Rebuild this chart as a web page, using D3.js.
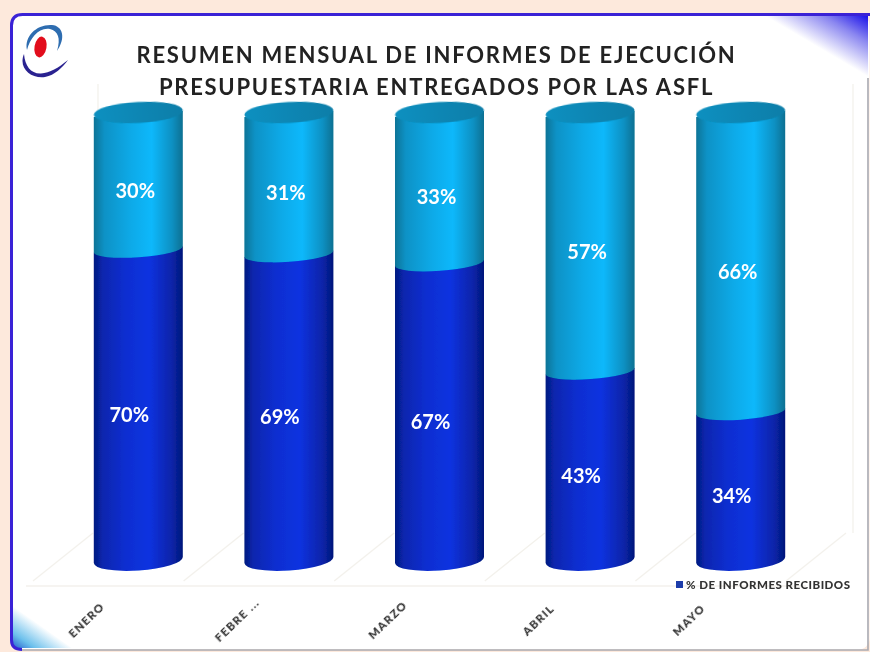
<!DOCTYPE html>
<html>
<head>
<meta charset="utf-8">
<script src="https://cdn.jsdelivr.net/npm/d3@7"></script>
<style>
  html, body { margin: 0; padding: 0; background: #fde9dc; }
  svg { display: block; }
  text { font-family: Lato, "Open Sans", sans-serif; }
</style>
</head>
<body>
<div id="chart"></div>
<script>
// values
const months = ["ENERO", "FEBRE ...", "MARZO", "ABRIL", "MAYO"];
const received = [70, 69, 67, 43, 34];
const missing = [30, 31, 33, 57, 66];
const titleLines = [
  "RESUMEN MENSUAL DE INFORMES DE EJECUCIÓN",
  "PRESUPUESTARIA ENTREGADOS POR LAS ASFL"
];
const legendLabel = "% DE INFORMES RECIBIDOS";

const width = 870, height = 652;
const tilt = -4;          // the cylinders lean a little in the 3D view
const capTilt = -3;
const baseLift = 5;

const svg = d3.select("#chart").append("svg")
  .attr("width", width)
  .attr("height", height);

const defs = svg.append("defs");

function sideGradient(id, stops) {
  defs.append("linearGradient").attr("id", id)
    .selectAll("stop").data(stops).enter().append("stop")
    .attr("offset", d => d[0])
    .attr("stop-color", d => d[1]);
}
sideGradient("darkBar", [[0, "#041a80"], [0.1, "#0826ae"], [0.35, "#0a2ed0"], [0.62, "#0832e0"], [0.88, "#0824a8"], [1, "#04177a"]]);
sideGradient("lightBar", [[0, "#0a7497"], [0.12, "#0a92c6"], [0.42, "#09aae8"], [0.65, "#07b8fb"], [0.88, "#0a90c2"], [1, "#0a7092"]]);
sideGradient("capFill", [[0, "#0a90c0"], [0.5, "#0786b4"], [1, "#0a7ea8"]]);

function cornerGradient(id, from, to, stops) {
  defs.append("linearGradient").attr("id", id)
    .attr("gradientUnits", "userSpaceOnUse")
    .attr("x1", from[0]).attr("y1", from[1])
    .attr("x2", to[0]).attr("y2", to[1])
    .selectAll("stop").data(stops).enter().append("stop")
    .attr("offset", d => d[0])
    .attr("stop-color", d => d[1]);
}
cornerGradient("cornerTop", [868, 14], [840.6, 60.5], [[0, "#1208e8"], [0.45, "#8a86f0"], [1, "#ffffff"]]);
cornerGradient("cornerBottom", [12, 650], [33, 620], [[0, "#1a50c8"], [0.4, "#6cc0ec"], [1, "#ffffff"]]);

const soft = defs.append("filter").attr("id", "soft");
soft.append("feGaussianBlur").attr("stdDeviation", 0.6);

// slide panel
svg.append("rect")
  .attr("x", 11.5).attr("y", 14.5)
  .attr("width", 858).attr("height", 635)
  .attr("rx", 11)
  .attr("fill", "#fff");
svg.append("path")
  .attr("d", "M762,16 L868,16 L868,78 Z")
  .attr("fill", "url(#cornerTop)");
svg.append("path")
  .attr("d", "M13,606 L13,648 L72,648 Z")
  .attr("fill", "url(#cornerBottom)");
svg.append("path")
  .attr("d", "M870,14.5 L22.5,14.5 Q11.5,14.5 11.5,25.5 L11.5,640 Q11.5,649.5 22,649.5")
  .attr("fill", "none")
  .attr("stroke", "#3a22d6")
  .attr("stroke-width", 3);
svg.append("path")
  .attr("d", "M22,650 L868,650 L868,78")
  .attr("fill", "none")
  .attr("stroke", "#a9a9b0")
  .attr("stroke-width", 1.6);

// logo
const logo = svg.append("g").attr("filter", "url(#soft)");
logo.append("ellipse")
  .attr("transform", "translate(40.5,47) rotate(10)")
  .attr("rx", 6).attr("ry", 10.5)
  .attr("fill", "#e2101c");
logo.append("path")
  .attr("d", "M27,50 C24,36 37,24 52,25 C63,26 66,38 57,51 C61,38 58,31 50,29 C39,27 30,38 27,50 Z")
  .attr("fill", "#2f6db0");
logo.append("path")
  .attr("d", "M24,54 C18,68 31,79 45,77 C55,75 62,68 68,60 C58,68 50,73 41,73.5 C31,74 25,66 24,54 Z")
  .attr("fill", "#2a2490");

// scales
const x = d3.scaleBand()
  .domain(months)
  .range([63, 816])
  .paddingInner(0.409)
  .paddingOuter(0.2045);

const y = d3.scaleLinear()
  .domain([0, 100])
  .range([565, 114]);

// floor and walls of the 3D plot
const grid = svg.append("g")
  .attr("fill", "none")
  .attr("stroke", "#f3f1ec")
  .attr("stroke-width", 1.3);
grid.append("line")
  .attr("x1", 26).attr("x2", 806).attr("y1", 586).attr("y2", 586);
grid.append("line")
  .attr("x1", 98).attr("x2", 98).attr("y1", 84).attr("y2", 533);
grid.append("line")
  .attr("x1", 853).attr("x2", 853).attr("y1", 84).attr("y2", 533);
d3.range(months.length + 1).forEach(i => {
  const x0 = 33 + x.step() * i;
  grid.append("line")
    .attr("x1", x0).attr("y1", 581)
    .attr("x2", x0 + 60).attr("y2", 533);
});

// stacked cylinders
const rows = months.map((m, i) => ({ month: m, received: received[i], missing: missing[i] }));
const stacked = d3.stack().keys(["received", "missing"])(rows);

const rx = x.bandwidth() / 2;
const lean = Math.tan(-tilt * Math.PI / 180) * rx;

function edgeY(v) {
  return v === 0 ? y(0) - baseLift : y(v);
}

function segment(d, ry) {
  const xL = x(d.data.month), xR = xL + x.bandwidth();
  const top = y(d[1]), bottom = edgeY(d[0]);
  return `M${xL},${top + lean} L${xL},${bottom + lean}` +
    ` A${rx / Math.cos(tilt * Math.PI / 180)},${ry} ${tilt} 0 0 ${xR},${bottom - lean}` +
    ` L${xR},${top - lean} Z`;
}

const bars = svg.append("g");

bars.selectAll(".received")
  .data(stacked[0])
  .enter().append("path")
  .attr("class", "received")
  .attr("d", d => segment(d, 10.5))
  .attr("fill", "url(#darkBar)")
  .attr("filter", "url(#soft)");

bars.selectAll(".missing")
  .data(stacked[1])
  .enter().append("path")
  .attr("class", "missing")
  .attr("d", d => segment(d, 8))
  .attr("fill", "url(#lightBar)")
  .attr("filter", "url(#soft)");

bars.selectAll(".cap")
  .data(stacked[1])
  .enter().append("ellipse")
  .attr("class", "cap")
  .attr("transform", d => `translate(${x(d.data.month) + rx},${y(d[1]) - 1.5}) rotate(${capTilt})`)
  .attr("rx", rx / Math.cos(capTilt * Math.PI / 180))
  .attr("ry", 10.5)
  .attr("fill", "url(#capFill)")
  .attr("filter", "url(#soft)");

// value labels
const labels = svg.append("g")
  .attr("fill", "#fff")
  .attr("font-weight", 700)
  .attr("font-size", 20)
  .attr("text-anchor", "middle")
  .attr("filter", "url(#soft)");

labels.selectAll(".lowLabel")
  .data(stacked[0])
  .enter().append("text")
  .attr("class", "lowLabel")
  .attr("x", d => x(d.data.month) + rx - 9)
  .attr("y", d => y((d[0] + d[1]) / 2) + 15)
  .text(d => (d[1] - d[0]) + "%");

labels.selectAll(".highLabel")
  .data(stacked[1])
  .enter().append("text")
  .attr("class", "highLabel")
  .attr("x", d => x(d.data.month) + rx - 3)
  .attr("y", d => y((d[0] + d[1]) / 2) + 16)
  .text(d => (d[1] - d[0]) + "%");

// month axis
const xAxis = svg.append("g")
  .attr("transform", "translate(0,586)")
  .call(d3.axisBottom(x).tickSize(0));
xAxis.select(".domain").remove();
xAxis.selectAll("text")
  .attr("fill", "#333")
  .attr("font-family", "Lato, sans-serif")
  .attr("font-weight", 900)
  .attr("font-size", 11.5)
  .attr("letter-spacing", 1.2)
  .attr("text-anchor", "middle")
  .attr("filter", "url(#soft)")
  .attr("y", 0).attr("dy", 0)
  .attr("transform", "translate(-49,37) rotate(-44)");

// title
svg.append("g")
  .attr("fill", "#222")
  .attr("font-weight", 700)
  .attr("font-size", 22)
  .attr("text-anchor", "middle")
  .attr("filter", "url(#soft)")
  .selectAll("text")
  .data(titleLines)
  .enter().append("text")
  .attr("x", 436.5)
  .attr("y", (d, i) => 63 + i * 32)
  .attr("letter-spacing", 1.75)
  .text(d => d);

// legend
svg.append("rect")
  .attr("x", 676).attr("y", 581)
  .attr("width", 7).attr("height", 7)
  .attr("fill", "#1c3caa");
svg.append("text")
  .attr("x", 686).attr("y", 589)
  .attr("fill", "#333")
  .attr("font-weight", 900)
  .attr("font-size", 11.5)
  .attr("letter-spacing", 0.5)
  .attr("filter", "url(#soft)")
  .text(legendLabel);
</script>
</body>
</html>
